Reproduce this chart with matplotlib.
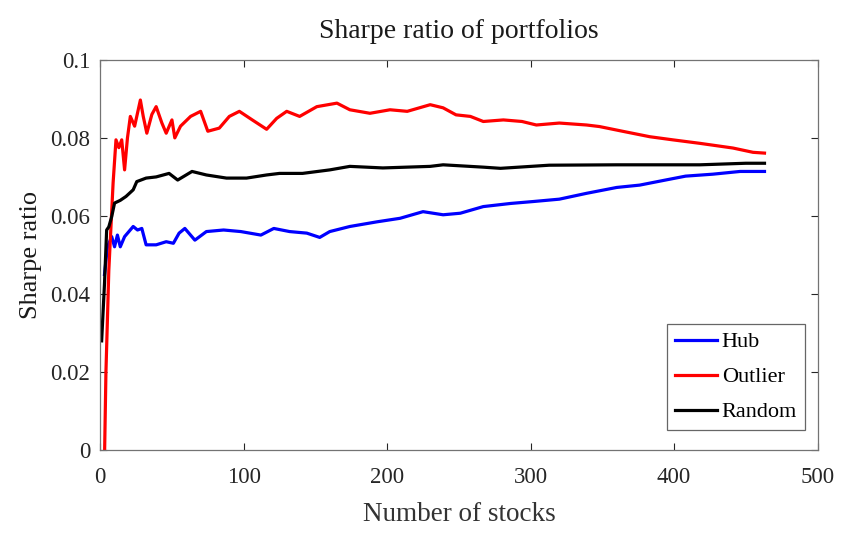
import numpy as np
import matplotlib.pyplot as plt
from matplotlib.ticker import FuncFormatter

# values
hub_x = [3, 5, 8, 10, 12, 14, 17, 20, 23, 26, 29, 32, 39, 46, 51, 55, 59, 66, 74, 86, 98,
         112, 121, 132, 144, 153, 160, 174, 193, 209, 225, 239, 251, 267, 286, 302, 320,
         339, 360, 376, 394, 408, 427, 446, 463]
hub_y = [0.045, 0.052, 0.0547, 0.0521, 0.0551, 0.0521, 0.0547, 0.056, 0.0573, 0.0564, 0.0568,
         0.0526, 0.0526, 0.0534, 0.053, 0.0556, 0.0568, 0.0538, 0.056, 0.0564, 0.056, 0.0551,
         0.0568, 0.056, 0.0556, 0.0545, 0.056, 0.0573, 0.0585, 0.0594, 0.0611, 0.0603, 0.0607,
         0.0624, 0.0632, 0.0637, 0.0643, 0.0658, 0.0673, 0.0679, 0.0692, 0.0702, 0.0707,
         0.0714, 0.0714]

outlier_x = [3, 4, 6, 9, 11, 13, 15, 17, 19, 21, 24, 28, 30, 32.5, 36, 39, 43, 46, 50, 52,
             56, 63, 70, 75, 83, 90, 97, 106, 116, 123, 130, 139, 151, 165, 174, 188, 202,
             214, 230, 239, 248, 258, 267, 281, 294, 304, 320, 339, 348, 364, 383, 399, 418,
             441, 455, 463]
outlier_y = [-0.002, 0.02, 0.046, 0.0685, 0.0795, 0.0775, 0.0795, 0.0718, 0.080, 0.0855,
             0.083, 0.0897, 0.0855, 0.0812, 0.086, 0.088, 0.0838, 0.0812, 0.0846, 0.080, 0.083,
             0.0855, 0.0868, 0.0817, 0.0825, 0.0855, 0.0868, 0.0846, 0.0822, 0.085, 0.0868,
             0.0855, 0.088, 0.0889, 0.0872, 0.0863, 0.0872, 0.0868, 0.0885, 0.0877, 0.0859,
             0.0855, 0.0842, 0.0846, 0.0842, 0.0833, 0.0838, 0.0833, 0.0829, 0.0817, 0.0803,
             0.0795, 0.0786, 0.0774, 0.0763, 0.0761]

random_x = [1, 3, 4.5, 6, 8, 10, 14, 18, 23, 25.5, 32, 39, 48, 54, 64, 74, 88, 102, 116,
            125, 141, 160, 174, 197, 230, 239, 267, 279, 313, 360, 418, 450, 463]
random_y = [0.028, 0.0427, 0.0564, 0.0572, 0.0598, 0.0633, 0.064, 0.065, 0.0667, 0.0688,
            0.0697, 0.070, 0.0709, 0.0692, 0.0714, 0.0705, 0.0697, 0.0697, 0.0705, 0.0709,
            0.0709, 0.0718, 0.0727, 0.0723, 0.0727, 0.0731, 0.0725, 0.0722, 0.073, 0.0731,
            0.0731, 0.0735, 0.0735]

plt.rcParams['font.family'] = ['Liberation Serif', 'DejaVu Serif']

fig = plt.figure(figsize=(8.42, 5.34), dpi=100)
ax = fig.add_axes([0.119, 0.157, 0.852, 0.731])

ax.plot(hub_x, hub_y, color='#0000ff', lw=2.3, label='Hub')
ax.plot(outlier_x, outlier_y, color='#ff0000', lw=2.3, label='Outlier')
ax.plot(random_x, random_y, color='black', lw=2.3, label='Random')

ax.set_xlim(0, 500)
ax.set_ylim(0, 0.1)
ax.set_xticks(np.arange(0, 501, 100))
ax.set_yticks([0, 0.02, 0.04, 0.06, 0.08, 0.1])
ax.yaxis.set_major_formatter(FuncFormatter(lambda v, p: ('%g' % round(v, 3))))
ax.tick_params(direction='in', top=True, right=True, length=5, width=0.8,
               labelsize=16.5, colors='0.15')
ax.tick_params(axis='x', pad=12)
ax.tick_params(axis='y', pad=7)
for s in ax.spines.values():
    s.set_color('0.45')
    s.set_linewidth(0.9)

ax.set_title('Sharpe ratio of portfolios', fontsize=20, color='0.1', pad=16)
ax.set_xlabel('Number of stocks', fontsize=19.5, color='0.2', labelpad=10)
ax.set_ylabel('Sharpe ratio', fontsize=19, color='0.1', labelpad=6)

leg = ax.legend(loc='lower right', bbox_to_anchor=(0.982, 0.051), fontsize=16,
                handlelength=1.9, handletextpad=0.2, borderpad=0.35, labelspacing=0.65,
                borderaxespad=0, fancybox=False, framealpha=1, edgecolor='0.4')
leg.get_frame().set_linewidth(0.9)

fig.savefig('out.png', dpi=100)
